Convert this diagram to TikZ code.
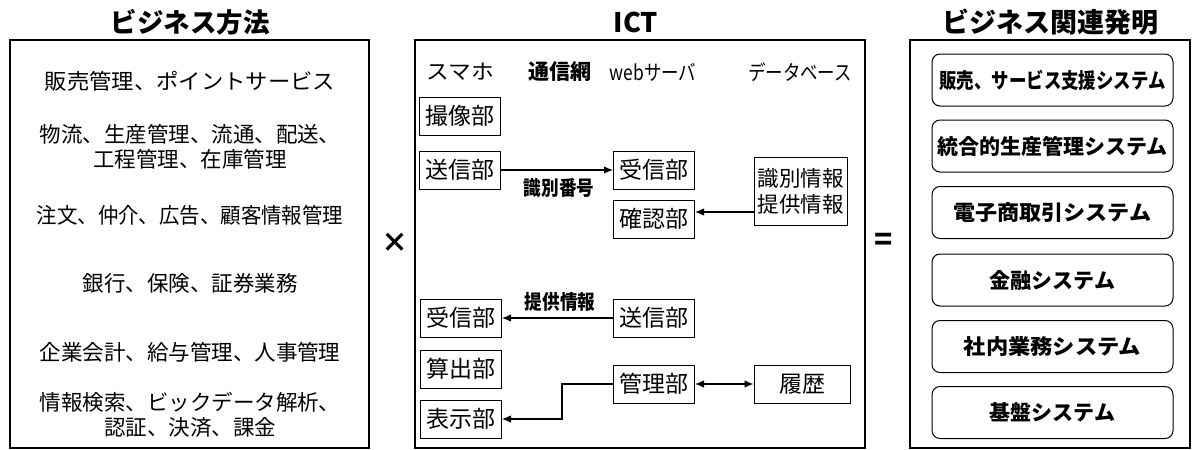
\documentclass[tikz,border=0pt]{standalone}
\usepackage{fontspec}
\usepackage{graphicx}
\setmainfont{Noto Sans CJK JP}
\usetikzlibrary{arrows.meta}
\begin{document}
\begin{tikzpicture}[x=1pt,y=-1pt,
  frame/.style={draw, line width=1.6pt, inner sep=0pt},
  title/.style={font=\bfseries\fontsize{26.5}{27}\selectfont},
  part/.style={draw, line width=1pt, minimum width=81pt, minimum height=38pt, inner sep=0pt, font=\fontsize{23}{23}\selectfont},
  sys/.style={draw, rounded corners=8pt, line width=1pt, minimum width=241pt, minimum height=52pt, inner sep=0pt, font=\bfseries\fontsize{21}{21}\selectfont},
  lab/.style={font=\fontsize{21.5}{25}\selectfont, align=center},
  head/.style={font=\fontsize{21}{21}\selectfont},
  elab/.style={font=\bfseries\fontsize{20}{20}\selectfont},
  arr/.style={-{Latex[length=9pt,width=7.5pt]}, line width=1.2pt},
  darr/.style={{Latex[length=9pt,width=7.5pt]}-{Latex[length=9pt,width=7.5pt]}, line width=1.2pt}
]
\useasboundingbox (0,0) rectangle (1192,450);

% titles
\node[title] (t1) at (190,22) {ビジネス方法};
\node[title, font=\bfseries\fontsize{27}{27}\selectfont] (t2) at (636,22) {ICT};
\node[title, font=\bfseries\fontsize{27}{27}\selectfont] (t3) at (1050,22) {ビジネス関連発明};

% frames
\node[frame, minimum width=359pt, minimum height=408pt] (L) at (189.5,244) {};
\node[frame, minimum width=450pt, minimum height=408pt] (M) at (640,244) {};
\node[frame, minimum width=280pt, minimum height=408pt] (R) at (1050,244) {};

\node[font=\bfseries\fontsize{27}{27}\selectfont] (times) at (395,243) {×};
\node[font=\bfseries\fontsize{30}{30}\selectfont] (eq) at (884,242) {=};

% left texts
\node[lab] (l1) at (190,81) {\scalebox{1.04}[1]{販売管理、ポイントサービス}};
\node[lab] (l2) at (190,147) {物流、生産管理、流通、配送、\\工程管理、在庫管理};
\node[lab] (l3) at (190,215) {\scalebox{0.95}[1]{注文、仲介、広告、顧客情報管理}};
\node[lab] (l4) at (190,283) {銀行、保険、証券業務};
\node[lab] (l5) at (190,352) {企業会計、給与管理、人事管理};
\node[lab] (l6) at (190,415) {情報検索、ビックデータ解析、\\認証、決済、課金};

% middle headers
\node[head] (h1) at (460,72) {\scalebox{1.08}[1]{スマホ}};
\node[head, font=\bfseries\fontsize{21}{21}\selectfont] (h2) at (560,72) {通信網};
\node[head] (h3) at (653,72) {\scalebox{0.83}[1]{webサーバ}};
\node[head] (h4) at (800,72) {\scalebox{0.83}[1]{データベース}};

% phone parts
\node[part] (satsu) at (460,116) {撮像部};
\node[part] (soshin1) at (460,170) {送信部};
\node[part] (jushin2) at (461,318) {受信部};
\node[part] (sanshutsu) at (461,369) {算出部};
\node[part] (hyouji) at (461,419) {表示部};

% server parts
\node[part] (jushin1) at (654,170) {受信部};
\node[part] (kakunin) at (654,219) {確認部};
\node[part] (soshin2) at (654,318) {送信部};
\node[part] (kanri) at (654,384) {管理部};

% database
\node[part, minimum width=93pt, minimum height=68pt, align=center, font=\fontsize{21.5}{26}\selectfont] (db) at (800.5,191) {識別情報\\提供情報};
\node[part, minimum width=96pt] (rireki) at (802,384) {履歴};

% connectors
\draw[arr] (soshin1.east) -- (jushin1.west);
\node[elab] (bango) at (559,188) {\scalebox{0.88}[1]{識別番号}};
\draw[arr] (db.west |- 0,212) -- (kakunin.east |- 0,212);
\draw[arr] (soshin2.west) -- (jushin2.east);
\node[elab] (teikyo) at (560,302) {\scalebox{0.88}[1]{提供情報}};
\draw[darr] (kanri.east) -- (rireki.west);
\draw[arr] (kanri.west) -- (562,384) |- (hyouji.east);

% right systems
\node[sys] (s1) at (1052.5,80) {\scalebox{0.83}[1]{販売、サービス支援システム}};
\node[sys] (s2) at (1052.5,146) {統合的生産管理システム};
\node[sys] (s3) at (1052.5,212.5) {\scalebox{1.05}[1]{電子商取引システム}};
\node[sys] (s4) at (1052.5,280) {金融システム};
\node[sys] (s5) at (1052.5,346.5) {\scalebox{1.06}[1]{社内業務システム}};
\node[sys] (s6) at (1052.5,412.5) {基盤システム};
\end{tikzpicture}
\end{document}
